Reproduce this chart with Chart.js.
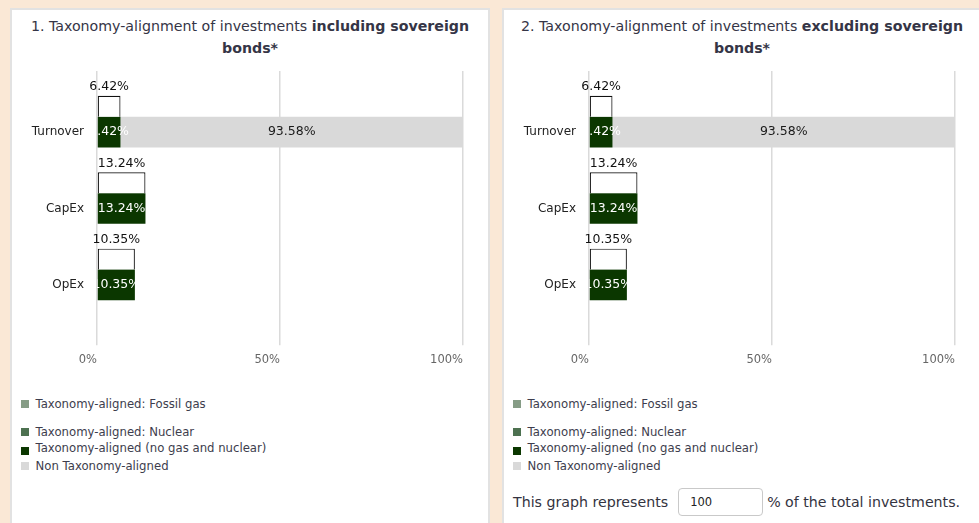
<!DOCTYPE html>
<html>
<head>
<meta charset="utf-8">
<script src="https://cdn.jsdelivr.net/npm/chart.js@4.4.1/dist/chart.umd.min.js"></script>
<style>
  html, body { margin: 0; padding: 0; }
  body { width: 979px; height: 523px; overflow: hidden; position: relative; background: #fae8d6; font-family: "DejaVu Sans", sans-serif; }
  .card { position: absolute; top: 8px; width: 480px; height: 540px; box-sizing: border-box; background: #fff; border: 2px solid #e2e2e2; }
  #card1 { left: 10px; }
  #card2 { left: 502px; }
  .title { position: absolute; left: 0; top: 6px; width: 100%; box-sizing: border-box; padding: 0 10px; text-align: center; font-size: 14.2px; line-height: 21.5px; color: #353546; }
  canvas { position: absolute; left: 0; top: 61px; }
  .legend { position: absolute; left: 9px; top: 386px; font-size: 11.7px; color: #3d3d4d; }
  .legend div { position: relative; height: 16px; line-height: 16px; padding-left: 14.5px; white-space: nowrap; }
  .legend span { position: absolute; left: 0; top: 4px; width: 8px; height: 8px; }
  .legend div:nth-child(2) { margin-top: 12px; }
  .legend div:nth-child(3) span { top: 7px; }
  .legend div:nth-child(4) { margin-top: 2px; }
  .share { position: absolute; left: 9px; top: 478px; height: 28px; display: flex; align-items: center; font-size: 14.2px; color: #333340; white-space: nowrap; }
  .share input { width: 85px; height: 28px; box-sizing: border-box; margin: 0 4px 0 10px; padding: 0 0 0 11px; border: 1px solid #c9c9c9; border-radius: 4px; font: 11.5px "DejaVu Sans", sans-serif; color: #222; }
</style>
</head>
<body>
<div class="card" id="card1">
  <div class="title">1. Taxonomy-alignment of investments <b>including sovereign bonds*</b></div>
  <canvas id="chart1" width="476" height="308"></canvas>
  <div class="legend" id="legend1"></div>
</div>
<div class="card" id="card2">
  <div class="title">2. Taxonomy-alignment of investments <b>excluding sovereign bonds*</b></div>
  <canvas id="chart2" width="476" height="308"></canvas>
  <div class="legend" id="legend2"></div>
  <div class="share">This graph represents <input type="text" value="100"> % of the total investments.</div>
</div>
<script>
// data (same values in both charts)
const categories = ['Turnover', 'CapEx', 'OpEx'];
const totalAligned = [6.42, 13.24, 10.35];
const fossilGas = [0, 0, 0];
const nuclear = [0, 0, 0];
const alignedOther = [6.42, 13.24, 10.35];
const nonAligned = [93.58, null, null];
const xTicks = [0, 50, 100];

Chart.defaults.font.family = '"DejaVu Sans", sans-serif';

const fmt = v => v.toFixed(2) + '%';

// draws the value labels: above the outlined total bar, inside the stacked bars
const valueLabels = {
  id: 'valueLabels',
  afterDatasetsDraw(chart) {
    const ctx = chart.ctx, a = chart.chartArea;
    ctx.save();
    ctx.font = '12.5px "DejaVu Sans", sans-serif';
    ctx.textAlign = 'center';
    ctx.textBaseline = 'middle';
    chart.data.datasets.forEach((ds, i) => {
      if (!ds.labelColor) return;
      chart.getDatasetMeta(i).data.forEach((bar, j) => {
        const v = ds.data[j];
        if (!v) return;
        const p = bar.getProps(['x', 'y', 'base', 'height'], true);
        const cx = (p.x + p.base) / 2;
        ctx.fillStyle = ds.labelColor;
        if (ds.labelAbove) {
          ctx.fillText(fmt(v), cx, p.y - p.height / 2 - 9);
        } else {
          ctx.save();
          ctx.beginPath();
          ctx.rect(a.left, a.top, a.right - a.left, a.bottom - a.top);
          ctx.clip();
          ctx.fillText(fmt(v), cx, p.y);
          ctx.restore();
        }
      });
    });
    ctx.restore();
  }
};

const gridColor = '#dadada';
const setTicks = s => { s.ticks = xTicks.map(v => ({ value: v })); };

function makeChart(canvasId, legendId) {
  const chart = new Chart(document.getElementById(canvasId), {
    type: 'bar',
    data: {
      labels: categories,
      datasets: [
        { label: 'Total', data: totalAligned, stack: 'total', backgroundColor: '#ffffff', borderColor: '#111111',
          borderWidth: 1.2, borderSkipped: 'bottom', barPercentage: 0.81, labelColor: '#111111', labelAbove: true },
        { label: 'Taxonomy-aligned: Fossil gas', data: fossilGas, stack: 'split', backgroundColor: '#869c86', barPercentage: 1.19 },
        { label: 'Taxonomy-aligned: Nuclear', data: nuclear, stack: 'split', backgroundColor: '#4d7150', barPercentage: 1.19 },
        { label: 'Taxonomy-aligned (no gas and nuclear)', data: alignedOther, stack: 'split', backgroundColor: '#0b3700',
          barPercentage: 1.19, labelColor: '#ffffff' },
        { label: 'Non Taxonomy-aligned', data: nonAligned, stack: 'split', backgroundColor: '#d9d9d9',
          barPercentage: 1.19, labelColor: '#1a1a1a' }
      ]
    },
    options: {
      indexAxis: 'y',
      responsive: false,
      animation: false,
      datasets: { bar: { categoryPercentage: 0.675 } },
      layout: { padding: { top: 0, right: 25, bottom: 4, left: 0 } },
      plugins: { legend: { display: false }, tooltip: { enabled: false } },
      scales: {
        x: {
          type: 'linear', position: 'bottom', min: 0, max: 100, stacked: true,
          afterBuildTicks: setTicks,
          grid: { color: gridColor, lineWidth: 1.5, tickLength: 35 },
          border: { display: false },
          ticks: { align: 'end', padding: 8, color: '#666666', font: { size: 11.5 }, callback: v => v + '%' }
        },
        xTop: {
          type: 'linear', position: 'top', min: 0, max: 100,
          afterBuildTicks: setTicks,
          grid: { color: gridColor, lineWidth: 1.5, tickLength: 10, drawOnChartArea: false },
          border: { display: false },
          ticks: { display: false }
        },
        y: {
          type: 'category', stacked: true,
          grid: { display: false, drawTicks: true, tickLength: 13 },
          border: { display: false },
          ticks: { padding: 0, labelOffset: 13, color: '#222222', font: { size: 12 } },
          afterFit: s => { s.width = 85; }
        }
      }
    },
    plugins: [valueLabels]
  });

  // html legend from the stacked datasets
  const legend = document.getElementById(legendId);
  chart.data.datasets.filter(ds => ds.stack === 'split').forEach(ds => {
    const row = document.createElement('div');
    row.innerHTML = '<span style="background:' + ds.backgroundColor + '"></span>' + ds.label;
    legend.appendChild(row);
  });
  return chart;
}

makeChart('chart1', 'legend1');
makeChart('chart2', 'legend2');
</script>
</body>
</html>
